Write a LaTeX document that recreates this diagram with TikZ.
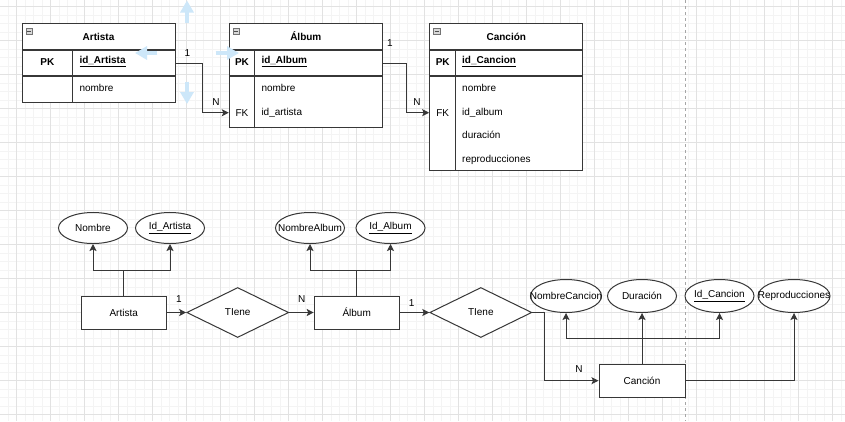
\documentclass[tikz,border=0pt]{standalone}
\usepackage{fontspec}
\setmainfont{Liberation Sans}
\usetikzlibrary{arrows,arrows.meta,shapes.geometric}

\definecolor{hoverblue}{RGB}{205,231,249}
\definecolor{gridminor}{RGB}{244,244,244}
\definecolor{gridmajor}{RGB}{226,226,226}
\definecolor{linegray}{RGB}{55,55,55}

\newcommand{\attrtxt}[1]{\makebox[0pt]{#1}}

\begin{document}
\begin{tikzpicture}[x=1pt,y=-1pt,
  every node/.style={font=\fontsize{10}{12}\selectfont},
  boldtxt/.style={font=\fontsize{10}{12}\selectfont\bfseries},
  tline/.style={draw=linegray,line width=1pt},
  tbl/.style={tline,fill=white,inner sep=0pt},
  hdr/.style={tbl,boldtxt,minimum height=25.6pt},
  pkrow/.style={tbl,minimum height=25.4pt,anchor=north},
  mini/.style={draw=black!55,fill=black!15,line width=0.6pt,text=black!70,minimum size=6.5pt,inner sep=0pt,anchor=north west},
  fld/.style={anchor=west,inner sep=0pt},
  key/.style={inner sep=0pt},
  conn/.style={tline,-{Stealth[length=7pt,width=7pt,inset=1.5pt]}},
  ent/.style={tbl,minimum width=85pt,minimum height=33pt},
  rel/.style={tbl,diamond,aspect=2,minimum width=102pt,minimum height=50pt},
  attr/.style={tbl,ellipse,minimum width=69pt,minimum height=31pt},
  lbl/.style={inner sep=0pt},
  hover/.style={hoverblue,line width=4.5pt,-{Triangle[length=12pt,width=13pt]}}
  ]

  \useasboundingbox (0,0) rectangle (845,421);
  \fill[white] (0,0) rectangle (845,421);
  \begin{scope}
    \clip (0,0) rectangle (845,421);
    \foreach \i in {0,...,100} \draw[gridminor,line width=1pt] ({-0.3+8.5*\i},0) -- ({-0.3+8.5*\i},421);
    \foreach \i in {0,...,50} \draw[gridminor,line width=1pt] (0,{-1.8+8.5*\i}) -- (845,{-1.8+8.5*\i});
    \foreach \i in {0,...,24} \draw[gridmajor,line width=1pt] ({16.7+34*\i},0) -- ({16.7+34*\i},421);
    \foreach \i in {0,...,12} \draw[gridmajor,line width=1pt] (0,{6.7+34*\i}) -- (845,{6.7+34*\i});
    \draw[black!35,line width=0.8pt,dash pattern=on 3pt off 3pt] (685.7,0) -- (685.7,421);
  \end{scope}

  \node[hdr,minimum width=153pt] (artH) at (98.5,36.5) {Artista};
  \node[pkrow,minimum width=153pt] (artPK) at (artH.south) {};
  \node[pkrow,minimum width=153pt,minimum height=25.3pt] (artB) at (artPK.south) {};
  \draw[tline] ([xshift=50.7pt]artPK.north west) -- ([xshift=50.7pt]artB.south west);
  \node[mini] (artM) at ([xshift=4pt,yshift=-4.5pt]artH.north west) {\rule{4pt}{0.8pt}};
  \node[key,boldtxt] (artPKk) at (47.3,61.7) {PK};
  \node[fld,boldtxt] (artId) at (79.3,61.7) {\underline{id\_Artista}};
  \node[fld] (artNomT) at (79.3,88) {nombre};

  \node[hdr,minimum width=153pt] (albH) at (305.8,36.5) {Álbum};
  \node[pkrow,minimum width=153pt] (albPK) at (albH.south) {};
  \node[pkrow,minimum width=153pt,minimum height=50.6pt] (albB) at (albPK.south) {};
  \draw[tline] ([xshift=25.4pt]albPK.north west) -- ([xshift=25.4pt]albB.south west);
  \node[mini] (albM) at ([xshift=4pt,yshift=-4.5pt]albH.north west) {\rule{4pt}{0.8pt}};
  \node[key,boldtxt] (albPKk) at (242,61.7) {PK};
  \node[fld,boldtxt] (albId) at (261.3,61.7) {\underline{id\_Album}};
  \node[fld] (albNomT) at (261.3,88) {nombre};
  \node[key] (albFK) at (242,112.7) {FK};
  \node[fld] (albArt) at (261.3,112.7) {id\_artista};

  \node[hdr,minimum width=153.3pt] (canH) at (506.3,36.5) {Canción};
  \node[pkrow,minimum width=153.3pt] (canPK) at (canH.south) {};
  \node[pkrow,minimum width=153.3pt,minimum height=93.3pt] (canB) at (canPK.south) {};
  \draw[tline] ([xshift=26pt]canPK.north west) -- ([xshift=26pt]canB.south west);
  \node[mini] (canM) at ([xshift=4pt,yshift=-4.5pt]canH.north west) {\rule{4pt}{0.8pt}};
  \node[key,boldtxt] (canPKk) at (442.7,61.7) {PK};
  \node[fld,boldtxt] (canId) at (462,61.7) {\underline{id\_Cancion}};
  \node[fld] (canNomT) at (462,88) {nombre};
  \node[key] (canFK) at (442.7,112.7) {FK};
  \node[fld] (canAlb) at (462,112.7) {id\_album};
  \node[fld] (canDurT) at (462,135) {duración};
  \node[fld] (canRepT) at (462,159.7) {reproducciones};

  \draw[conn] (artPK.east) -- ++(26.7,0) |- (albB.west |- albFK);
  \draw[conn] (albPK.east) -- ++(23.4,0) |- (canB.west |- canFK);
  \node[lbl] (l1) at (187.5,53.3) {1};
  \node[lbl] (l2) at (216,102) {N};
  \node[lbl] (l3) at (390,42.7) {1};
  \node[lbl] (l4) at (417,102) {N};

  \node[attr] (artNom) at (93,228) {\attrtxt{Nombre}};
  \node[attr] (artIdA) at (170,228) {\attrtxt{\underline{Id\_Artista}}};
  \node[ent] (art) at (123.7,312.5) {Artista};
  \node[rel] (rel1) at (237.7,312.5) {TIene};
  \node[ent] (alb) at (356.7,312.5) {Álbum};
  \node[attr] (albNom) at (310,228) {\attrtxt{NombreAlbum}};
  \node[attr] (albIdA) at (390.5,228) {\attrtxt{\underline{Id\_Album}}};
  \node[rel] (rel2) at (480.8,312.5) {TIene};
  \node[ent,minimum width=86pt] (can) at (642,380.7) {Canción};
  \node[attr,minimum width=71pt,minimum height=33pt] (canNom) at (566,296) {\attrtxt{NombreCancion}};
  \node[attr,minimum height=33pt] (canDur) at (642,296) {\attrtxt{Duración}};
  \node[attr,minimum height=33pt] (canIdA) at (719.5,296) {\attrtxt{\underline{Id\_Cancion}}};
  \node[attr,minimum width=72pt,minimum height=33pt] (canRep) at (794,296) {\attrtxt{Reproducciones}};

  \coordinate (artJ) at (123.7,270);
  \draw[tline] (art) -- (artJ);
  \draw[conn] (artJ) -| (artNom);
  \draw[conn] (artJ) -| (artIdA);
  \coordinate (albJ) at (356.7,270);
  \draw[tline] (alb) -- (albJ);
  \draw[conn] (albJ) -| (albNom);
  \draw[conn] (albJ) -| (albIdA);
  \coordinate (canJ) at (642,338.3);
  \draw[tline] (can) -- (canJ);
  \draw[conn] (canJ) -| (canNom);
  \draw[conn] (canJ) -- (canDur);
  \draw[conn] (canJ) -| (canIdA);
  \draw[conn] (can) -| (canRep);

  \draw[conn] (art) -- (rel1);
  \draw[conn] (rel1) -- (alb);
  \draw[conn] (alb) -- (rel2);
  \draw[conn] (rel2.east) -- ++(12.3,0) |- (can);
  \node[lbl] (l5) at (179,299) {1};
  \node[lbl] (l6) at (301.7,299) {N};
  \node[lbl] (l7) at (411.7,302.7) {1};
  \node[lbl] (l8) at (579,369) {N};

  \draw[hover] (187,23) -- (187,0.5);
  \draw[hover] (157.3,53) -- (135,53);
  \draw[hover] (215.7,53) -- (239,53);
  \draw[hover] (187,81.7) -- (187,104);

\end{tikzpicture}
\end{document}
